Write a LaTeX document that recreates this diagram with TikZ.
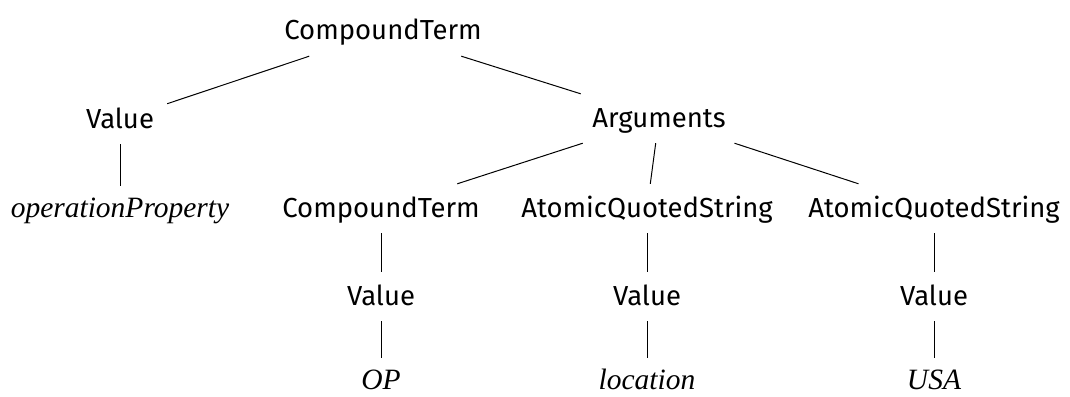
\documentclass[tikz,border=0pt]{standalone}
\usepackage{fontspec}
\setsansfont{Fira Sans}
\newfontfamily\leaffont{Liberation Serif}

\begin{document}
\begin{tikzpicture}[
        x=1pt, y=-1pt, % Координаты в пикселях, ось y вниз
        cell/.style={anchor=base, inner xsep=13pt, inner ysep=6pt,
            text height=27pt, text depth=10pt,
            font=\sffamily\fontsize{27.5}{32}\selectfont}, % Стиль узлов
        leaf/.style={cell, inner ysep=0pt, text height=31pt, text depth=1pt,
            font=\leaffont\itshape\fontsize{29.5}{32}\selectfont}, % Листья
        branch/.style={draw, line width=1pt}, % Ребра
    ]
    \useasboundingbox (0,0) rectangle (1070,396);

    \node[cell] (root) at (383,40) {CompoundTerm};
    \node[cell] (value) at (120,128) {Value};
    \node[cell] (args) at (659,127) {Arguments};
    \node[leaf] (opprop) at (120,217) {operationProperty};
    \node[cell] (cterm) at (381,217) {CompoundTerm};
    \node[cell] (aqsA) at (647,217) {AtomicQuotedString};
    \node[cell] (aqsB) at (934,217) {AtomicQuotedString};
    \node[cell] (valueC) at (381,305) {Value};
    \node[cell] (valueA) at (647,305) {Value};
    \node[cell] (valueB) at (934,305) {Value};
    \node[leaf] (op) at (381,389) {OP};
    \node[leaf] (loc) at (647,389) {location};
    \node[leaf] (usa) at (934,389) {USA};

    \foreach \a/\b in {root/value, root/args, value/opprop,
            args/cterm, args/aqsA, args/aqsB,
            cterm/valueC, aqsA/valueA, aqsB/valueB,
            valueC/op, valueA/loc, valueB/usa}
        \draw[branch] (\a) -- (\b);
\end{tikzpicture}
\end{document}
